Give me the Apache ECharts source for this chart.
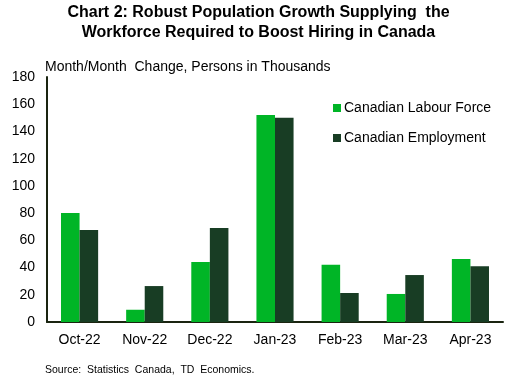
<!DOCTYPE html>
<html><head><meta charset="utf-8">
<script src="https://cdn.jsdelivr.net/npm/echarts@6/dist/echarts.min.js"></script>
<style>html,body{margin:0;padding:0;background:#fff}#c{width:517px;height:385px}</style>
</head><body><div id="c"></div>
<script>
const categories = ['Oct-22','Nov-22','Dec-22','Jan-23','Feb-23','Mar-23','Apr-23'];
const labourForce = [80, 9, 44, 152, 42, 20.6, 46.3];
const employment = [67.6, 26.4, 69, 150, 21.3, 34.5, 41];
const yTicks = {min: 0, max: 180, interval: 20};

const chart = echarts.init(document.getElementById('c'));
chart.setOption({
  animation: false,
  textStyle: {fontFamily: 'Liberation Sans, Arial, sans-serif'},
  title: [
    {text: 'Chart 2: Robust Population Growth Supplying  the\nWorkforce Required to Boost Hiring in Canada',
     left: 'center', top: 3, padding: 0,
     textStyle: {fontSize: 16, fontWeight: 'bold', color: '#000', lineHeight: 20, fontFamily: 'Liberation Sans, Arial, sans-serif'}},
    {text: 'Month/Month  Change, Persons in Thousands', left: 45, top: 60, padding: 0,
     textStyle: {fontSize: 14, fontWeight: 'normal', color: '#000', fontFamily: 'Liberation Sans, Arial, sans-serif'}},
    {text: 'Source:  Statistics  Canada,  TD  Economics.', left: 45, top: 365, padding: 0,
     textStyle: {fontSize: 10.5, fontWeight: 'normal', color: '#000', fontFamily: 'Liberation Sans, Arial, sans-serif'}}
  ],
  legend: {
    orient: 'vertical', left: 328, top: 96, itemGap: 16,
    itemWidth: 8, itemHeight: 8, icon: 'rect',
    textStyle: {fontSize: 14, color: '#000', padding: [0,0,0,-2]},
    data: ['Canadian Labour Force', 'Canadian Employment']
  },
  grid: {left: 47, right: 14, top: 77, bottom: 63},
  xAxis: {
    type: 'category', data: categories,
    axisLine: {lineStyle: {color: '#1a2410', width: 2}},
    axisTick: {show: false},
    axisLabel: {fontSize: 14, color: '#000', margin: 11}
  },
  yAxis: {
    type: 'value', min: yTicks.min, max: yTicks.max, interval: yTicks.interval,
    axisLine: {show: true, lineStyle: {color: '#1a2410', width: 2}},
    axisTick: {show: false},
    splitLine: {show: false},
    axisLabel: {fontSize: 14, color: '#000', margin: 12}
  },
  series: [
    {name: 'Canadian Labour Force', type: 'bar', data: labourForce,
     barGap: '0%', barCategoryGap: '43%', itemStyle: {color: '#00b526'}},
    {name: 'Canadian Employment', type: 'bar', data: employment,
     itemStyle: {color: '#183d24'}}
  ]
});
</script></body></html>
